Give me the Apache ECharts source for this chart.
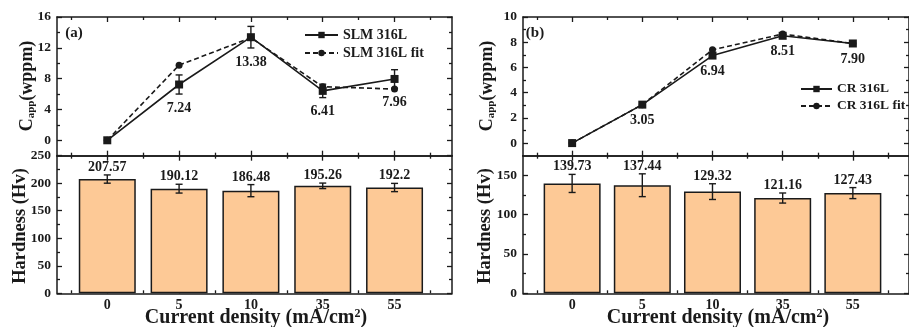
<!DOCTYPE html>
<html><head><meta charset="utf-8">
<script src="https://cdn.jsdelivr.net/npm/echarts@6/dist/echarts.min.js"></script>
<style>html,body{margin:0;padding:0;background:#fff}#c{width:909px;height:327px}</style>
</head><body><div id="c"></div>
<script>
// ---- data ----
const categories = ['0', '5', '10', '35', '55'];
const slmC = [0, 7.24, 13.38, 6.41, 7.96];
const slmCErr = [0, 1.24, 1.4, 0.87, 1.2];
const slmFit = [0, 9.75, 13.3, 6.95, 6.65];
const slmHard = [207.57, 190.12, 186.48, 195.26, 192.2];
const slmHardErr = [7.5, 8, 11, 5, 7.5];
const crC = [0, 3.05, 6.94, 8.51, 7.90];
const crCErr = [0, 0, 0, 0, 0];
const crFit = [0, 3.05, 7.4, 8.65, 7.9];
const crHard = [139.73, 137.44, 129.32, 121.16, 127.43];
const crHardErr = [11.5, 14.5, 10, 6.4, 7];
const aCTicks = [0, 4, 8, 12, 16];
const aHTicks = [0, 50, 100, 150, 200, 250];
const bCTicks = [0, 2, 4, 6, 8, 10];
const bHTicks = [0, 50, 100, 150];

const FONT = '"Liberation Serif","Times New Roman",serif';
const INK = '#1a1a1a';
const BAR = '#FDC996';

const chart = echarts.init(document.getElementById('c'));

const catIdx = categories.map((_, i) => i);
const halfIdx = [-0.5].concat(catIdx.map(i => i + 0.5));
const XMIN = -0.7, XMAX = 4.8;

function mids(t) { const r = []; for (let i = 0; i < t.length; i++) { r.push(t[i] + (t[1] - t[0]) / 2); } return r; }

const grids = [
  { left: 57, top: 17, width: 395, height: 138.7 },
  { left: 57, top: 155.7, width: 395, height: 137.6 },
  { left: 523, top: 17, width: 395, height: 138.7 },
  { left: 523, top: 155.7, width: 395, height: 137.6 }
].map(g => Object.assign({ show: false, containLabel: false }, g));

const yDefs = [
  { min: -2, max: 16, ticks: aCTicks },
  { min: 0, max: 250, ticks: aHTicks },
  { min: -1, max: 10, ticks: bCTicks },
  { min: 0, max: 175, ticks: bHTicks }
];

const xAxis = [], yAxis = [];
function axisBase(type, g, pos, min, max, tickVals, len, showLine, labels) {
  return {
    type: 'value', gridIndex: g, position: pos, min: min, max: max,
    axisLine: { show: showLine, onZero: false, lineStyle: { color: INK, width: 1.5 } },
    axisTick: { show: true, inside: true, length: len, customValues: tickVals, lineStyle: { color: INK, width: 1.3 } },
    axisLabel: labels || { show: false },
    splitLine: { show: false }, minorTick: { show: false }
  };
}
for (let g = 0; g < 4; g++) {
  const lower = (g % 2 === 1);
  const xl = lower ? {
    show: true, customValues: catIdx, margin: 5,
    formatter: v => categories[Math.round(v)],
    fontFamily: FONT, fontWeight: 'bold', fontSize: 14, color: INK
  } : { show: false };
  xAxis.push(axisBase('x', g, 'bottom', XMIN, XMAX, catIdx, 5, true, xl));
  xAxis.push(axisBase('x', g, 'bottom', XMIN, XMAX, halfIdx, 3, false));
  xAxis.push(axisBase('x', g, 'top', XMIN, XMAX, catIdx, 5, true));
  xAxis.push(axisBase('x', g, 'top', XMIN, XMAX, halfIdx, 3, false));
  const d = yDefs[g];
  const mn = mids(d.ticks).filter(v => v < d.max);
  const yl = {
    show: true, customValues: d.ticks, margin: 6,
    fontFamily: FONT, fontWeight: 'bold', fontSize: 13.5, color: INK
  };
  yAxis.push(axisBase('y', g, 'left', d.min, d.max, d.ticks, 5, true, yl));
  yAxis.push(axisBase('y', g, 'left', d.min, d.max, mn, 3, false));
  yAxis.push(axisBase('y', g, 'right', d.min, d.max, d.ticks, 5, true));
  yAxis.push(axisBase('y', g, 'right', d.min, d.max, mn, 3, false));
}

const labelFont = 'bold 14px ' + FONT;
function errSeries(g, vals, errs, mode) {
  return {
    type: 'custom', xAxisIndex: g * 4, yAxisIndex: g * 4, z: 5,
    data: vals.map((v, i) => [i, v, errs[i]]),
    renderItem: function (params, api) {
      const x = api.value(0), v = api.value(1), e = api.value(2);
      const top = api.coord([x, v + e]), bot = api.coord([x, v - e]), mid = api.coord([x, v]);
      const children = [];
      const cap = 3.5;
      if (e > 0) {
        const ls = { stroke: INK, lineWidth: 1.4 };
        children.push({ type: 'line', shape: { x1: top[0], y1: top[1], x2: bot[0], y2: bot[1] }, style: ls });
        children.push({ type: 'line', shape: { x1: top[0] - cap, y1: top[1], x2: top[0] + cap, y2: top[1] }, style: ls });
        children.push({ type: 'line', shape: { x1: bot[0] - cap, y1: bot[1], x2: bot[0] + cap, y2: bot[1] }, style: ls });
      }
      let txt = null, ty = 0;
      if (mode === 'bar') { txt = String(v); ty = top[1] - 7.5; }
      else if (mode === 'lineErr') { if (v !== 0) { txt = v.toFixed(2); ty = bot[1] + 14; } }
      else if (mode === 'linePt') { if (v !== 0) { txt = v.toFixed(2); ty = mid[1] + 16; } }
      if (txt) {
        children.push({ type: 'text', style: { text: txt, x: mid[0], y: ty, textAlign: 'center', textVerticalAlign: 'middle', font: labelFont, fill: INK } });
      }
      return { type: 'group', children: children };
    }
  };
}

function lineSeries(name, g, vals, dashed) {
  return {
    name: name, type: 'line', xAxisIndex: g * 4, yAxisIndex: g * 4, z: dashed ? 3 : 4,
    data: vals.map((v, i) => [i, v]),
    symbol: dashed ? 'circle' : 'rect', symbolSize: dashed ? 7 : 8,
    lineStyle: { color: INK, width: 1.6, type: dashed ? [5, 3] : 'solid' },
    itemStyle: { color: INK },
    emphasis: { disabled: true }
  };
}
function barSeries(g, vals) {
  return {
    type: 'bar', xAxisIndex: g * 4, yAxisIndex: g * 4, z: 2, barWidth: 57,
    data: vals.map((v, i) => [i, v]),
    itemStyle: { color: BAR, borderColor: INK, borderWidth: 1.5 },
    emphasis: { disabled: true }
  };
}

const series = [
  lineSeries('SLM 316L fit', 0, slmFit, true),
  lineSeries('SLM 316L', 0, slmC, false),
  errSeries(0, slmC, slmCErr, 'lineErr'),
  barSeries(1, slmHard),
  errSeries(1, slmHard, slmHardErr, 'bar'),
  lineSeries('CR 316L fit', 2, crFit, true),
  lineSeries('CR 316L', 2, crC, false),
  errSeries(2, crC, crCErr, 'linePt'),
  barSeries(3, crHard),
  errSeries(3, crHard, crHardErr, 'bar')
];

const legendText = { fontFamily: FONT, fontWeight: 'bold', fontSize: 14, color: INK };
const legendTextB = { fontFamily: FONT, fontWeight: 'bold', fontSize: 13.5, color: INK };
const legend = [
  { data: ['SLM 316L', 'SLM 316L fit'], orient: 'vertical', left: 304, top: 28, itemWidth: 33, itemHeight: 8, itemGap: 4, textStyle: legendText, selectedMode: false, padding: 0 },
  { data: ['CR 316L', 'CR 316L fit'], orient: 'vertical', left: 800, top: 82, itemWidth: 31, itemHeight: 8, itemGap: 3, textStyle: legendTextB, selectedMode: false, padding: 0 }
];

function txt(t, x, y, size, rot, rich) {
  const o = { type: 'text', x: x, y: y, rotation: rot || 0, style: { text: t, font: 'bold ' + size + 'px ' + FONT, fill: INK, textAlign: 'center', textVerticalAlign: 'middle' } };
  if (rich) o.style.rich = rich;
  return o;
}
const sub = { sub: { fontSize: 11, fontWeight: 'bold', fontFamily: FONT, fill: INK, verticalAlign: 'bottom', padding: [8, 0, 0, 0] }, n: { fontSize: 18, fontWeight: 'bold', fontFamily: FONT, fill: INK } };
const supr = { sup: { fontSize: 12, fontWeight: 'bold', fontFamily: FONT, fill: INK, padding: [0, 0, 8, 0] }, n: { fontSize: 20, fontWeight: 'bold', fontFamily: FONT, fill: INK } };

const graphic = [
  txt('(a)', 74, 33, 15),
  txt('(b)', 535, 33, 15),
  txt('{n|C}{sub|app}{n|(wppm)}', 27, 86, 18, Math.PI / 2, sub),
  txt('Hardness (Hv)', 20, 226, 18.5, Math.PI / 2),
  txt('{n|C}{sub|app}{n|(wppm)}', 487, 86, 18, Math.PI / 2, sub),
  txt('Hardness (Hv)', 485, 226, 18.5, Math.PI / 2),
  txt('{n|Current density (mA/cm}{sup|2}{n|)}', 256, 318, 20, 0, supr),
  txt('{n|Current density (mA/cm}{sup|2}{n|)}', 718, 318, 20, 0, supr)
];

chart.setOption({
  animation: false,
  backgroundColor: '#fff',
  grid: grids,
  xAxis: xAxis,
  yAxis: yAxis,
  legend: legend,
  series: series,
  graphic: graphic
});
</script>
</body></html>
